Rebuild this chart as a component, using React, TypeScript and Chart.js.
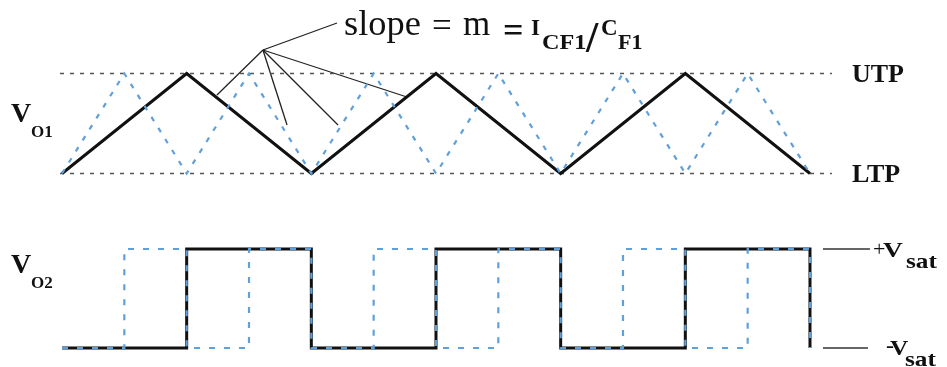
import React, { useEffect, useRef } from "react";
import { Chart, registerables } from "chart.js";

Chart.register(...registerables);

// Time axis in units of the half period of V_O1 (one ramp of the black triangle).
// Voltage axes: +1 = UTP / +Vsat, -1 = LTP / -Vsat.

// V_O1, black triangle (one vertex per half period)
const triTimes = [0, 1, 2, 3, 4, 5, 6];
const triLevels = [-1, 1, -1, 1, -1, 1, -1];

// V_O1, blue dashed triangle at twice the frequency
const fastTriTimes = [0, 0.5, 1, 1.5, 2, 2.5, 3, 3.5, 4, 4.5, 5, 5.5, 6];
const fastTriLevels = [-1, 1, -1, 1, -1, 1, -1, 1, -1, 1, -1, 1, -1];

// V_O2, black square wave (level held until the next switching time)
const sqTimes = [0, 1, 2, 3, 4, 5, 6];
const sqLevels = [-1, 1, -1, 1, -1, 1, -1];

// V_O2, blue dashed square wave at twice the frequency
const fastSqTimes = [0, 0.5, 1, 1.5, 2, 2.5, 3, 3.5, 4, 4.5, 5, 5.5, 6];
const fastSqLevels = [-1, 1, -1, 1, -1, 1, -1, 1, -1, 1, -1, 1, -1];

// Threshold reference lines (UTP, LTP)
const thresholdSpan = [-0.016, 6.176];
const thresholdLevels = [1, -1];

// Saturation markers (+Vsat, -Vsat)
const satSpans = [
  [6.104, 6.481],
  [6.104, 6.465],
];
const satLevels = [1, -1];

// Slope callout: hub point and the ends of its leader lines
const slopeHub = { x: 1.612, y: 1.47 };
const slopeLeaderEnds = [
  { x: 2.206, y: 2.01 },
  { x: 1.243, y: 0.57 },
  { x: 1.805, y: -0.03 },
  { x: 2.214, y: -0.03 },
  { x: 2.767, y: 0.53 },
];

const BLACK = "#111111";
const BLUE = "rgb(96,160,218)";
const SERIF = "'Liberation Serif', 'Times New Roman', serif";

const pts = (xs: number[], ys: number[]) => xs.map((x, i) => ({ x, y: ys[i] }));

const labelsPlugin = {
  id: "waveLabels",
  afterDatasetsDraw(chart: any) {
    const ctx = chart.ctx as CanvasRenderingContext2D;
    ctx.save();
    ctx.fillStyle = BLACK;
    ctx.textBaseline = "alphabetic";
    ctx.textAlign = "left";

    // sx widens the glyphs horizontally
    const text = (s: string, x: number, y: number, font: string, sx = 1) => {
      ctx.save();
      ctx.font = font;
      ctx.translate(x, y);
      ctx.scale(sx, 1);
      ctx.fillText(s, 0, 0);
      ctx.restore();
    };

    // slope = m = I_CF1 / C_F1
    text("slope", 344, 35, `35px ${SERIF}`, 1.04);
    text("=", 432, 37, `35px ${SERIF}`);
    text("m", 463, 35, `35px ${SERIF}`);
    text("=", 503, 42, `bold 36px ${SERIF}`);
    text("I", 531, 35, `bold 23px ${SERIF}`);
    text("CF1", 542, 49, `bold 22px ${SERIF}`, 1.1);
    text("/", 586, 52, `bold 44px ${SERIF}`);
    text("C", 601, 35, `bold 23px ${SERIF}`);
    text("F1", 618, 49, `bold 22px ${SERIF}`);

    // axis names
    text("V", 11, 122, `bold 28px ${SERIF}`);
    text("O1", 31, 137, `bold 17px ${SERIF}`);
    text("V", 11, 273, `bold 28px ${SERIF}`);
    text("O2", 31, 288, `bold 17px ${SERIF}`);

    // threshold names
    text("UTP", 852, 82, `bold 26px ${SERIF}`);
    text("LTP", 852, 182, `bold 26px ${SERIF}`);

    // saturation names
    text("+", 873, 256, `22px ${SERIF}`);
    text("V", 883, 257, `bold 22px ${SERIF}`, 1.25);
    text("sat", 906, 268, `bold 22px ${SERIF}`, 1.15);
    text("-", 886, 353, `24px ${SERIF}`);
    text("V", 890, 355, `bold 22px ${SERIF}`, 1.15);
    text("sat", 905, 366, `bold 22px ${SERIF}`, 1.15);

    ctx.restore();
  },
};

export default function App() {
  const canvasRef = useRef<HTMLCanvasElement | null>(null);

  useEffect(() => {
    document.body.style.margin = "0";
    const canvas = canvasRef.current;
    if (!canvas) return;

    const datasets: any[] = [];

    // blue dashed traces on top
    datasets.push({
      data: pts(fastTriTimes, fastTriLevels),
      yAxisID: "y",
      borderColor: BLUE,
      borderWidth: 2.2,
      borderDash: [5, 8],
      order: 0,
    });
    datasets.push({
      data: pts(fastSqTimes, fastSqLevels),
      yAxisID: "y2",
      stepped: "before",
      borderColor: BLUE,
      borderWidth: 2.2,
      borderDash: [6, 9],
      order: 0,
    });

    // black traces
    datasets.push({
      data: pts(triTimes, triLevels),
      yAxisID: "y",
      borderColor: BLACK,
      borderWidth: 3,
      order: 1,
    });
    datasets.push({
      data: pts(sqTimes, sqLevels),
      yAxisID: "y2",
      stepped: "before",
      borderColor: BLACK,
      borderWidth: 3,
      order: 1,
    });

    // UTP / LTP dotted lines
    thresholdLevels.forEach((lvl) => {
      datasets.push({
        data: thresholdSpan.map((x) => ({ x, y: lvl })),
        yAxisID: "y",
        borderColor: "#555555",
        borderWidth: 1.5,
        borderDash: [4, 6],
        order: 2,
      });
    });

    // +Vsat / -Vsat short markers
    satLevels.forEach((lvl, i) => {
      datasets.push({
        data: satSpans[i].map((x) => ({ x, y: lvl })),
        yAxisID: "y2",
        borderColor: "#333333",
        borderWidth: 1.5,
        order: 2,
      });
    });

    // slope leader lines
    slopeLeaderEnds.forEach((end) => {
      datasets.push({
        data: [slopeHub, end],
        yAxisID: "y",
        borderColor: "#222222",
        borderWidth: 1.3,
        order: 3,
      });
    });

    datasets.forEach((d) => {
      d.showLine = true;
      d.pointRadius = 0;
      d.fill = false;
      d.tension = 0;
    });

    const chart = new Chart(canvas, {
      type: "scatter",
      data: { datasets },
      options: {
        animation: false,
        responsive: false,
        maintainAspectRatio: false,
        layout: { padding: 0 },
        plugins: {
          legend: { display: false },
          tooltip: { enabled: false },
        },
        scales: {
          x: { type: "linear", min: -0.4973, max: 7.099, display: false },
          y: { type: "linear", min: -4.87, max: 2.47, display: false },
          y2: { type: "linear", min: -1.3838, max: 6.0303, display: false },
        },
      },
      plugins: [labelsPlugin],
    });

    return () => chart.destroy();
  }, []);

  return (
    <div style={{ width: 947, height: 367, background: "#ffffff" }}>
      <canvas ref={canvasRef} width={947} height={367} style={{ display: "block" }} />
    </div>
  );
}
